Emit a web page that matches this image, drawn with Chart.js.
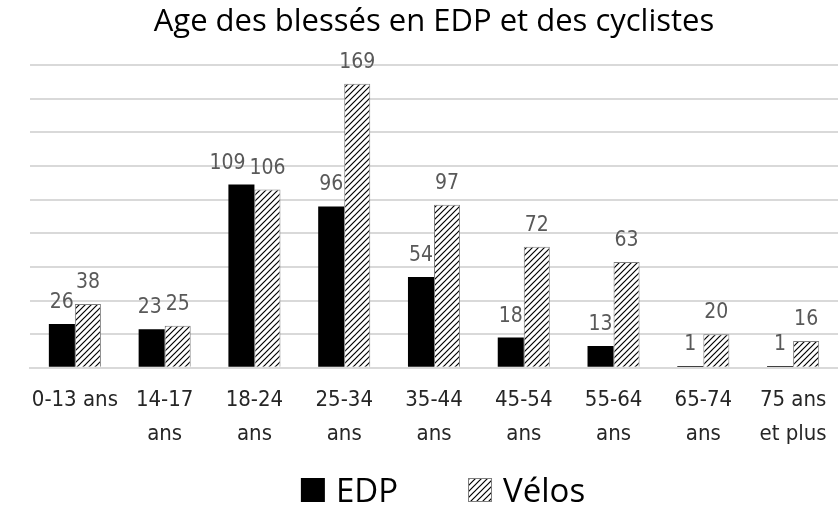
<!DOCTYPE html>
<html>
<head>
<meta charset="utf-8">
<script src="https://cdn.jsdelivr.net/npm/chart.js@4"></script>
<style>
  html, body { margin: 0; padding: 0; background: #fff; }
  #wrap { width: 838px; height: 507px; }
</style>
</head>
<body>
<div id="wrap"><canvas id="myChart" width="838" height="507"></canvas></div>
<script>
// categories and values
var labels = [["0-13 ans"], ["14-17", "ans"], ["18-24", "ans"], ["25-34", "ans"], ["35-44", "ans"],
              ["45-54", "ans"], ["55-64", "ans"], ["65-74", "ans"], ["75 ans", "et plus"]];
var edp = [26, 23, 109, 96, 54, 18, 13, 1, 1];
var velos = [38, 25, 106, 169, 97, 72, 63, 20, 16];

function hatch() {
    var c = document.createElement('canvas');
    c.width = 6; c.height = 6;
    var g = c.getContext('2d');
    g.fillStyle = '#fff';
    g.fillRect(0, 0, 6, 6);
    g.strokeStyle = '#000';
    g.lineWidth = 1.2;
    g.beginPath();
    g.moveTo(0, 6); g.lineTo(6, 0);
    g.moveTo(-3, 3); g.lineTo(3, -3);
    g.moveTo(3, 9); g.lineTo(9, 3);
    g.stroke();
    return g.createPattern(c, 'repeat');
}

// write the value above each bar; the left label is pushed left if the two touch
var valueLabels = {
    id: 'valueLabels',
    afterDatasetsDraw: function (chart) {
        var ctx = chart.ctx;
        ctx.save();
        ctx.font = '21px "DejaVu Sans Condensed", "DejaVu Sans"';
        ctx.fillStyle = '#595959';
        ctx.textAlign = 'center';
        ctx.textBaseline = 'alphabetic';
        var a = chart.getDatasetMeta(0).data, b = chart.getDatasetMeta(1).data;
        var da = chart.data.datasets[0].data, db = chart.data.datasets[1].data;
        a.forEach(function (barA, j) {
            var barB = b[j];
            var wa = ctx.measureText(da[j]).width, wb = ctx.measureText(db[j]).width;
            var xa = barA.x, ya = barA.y - 16, yb = barB.y - 16;
            var overlap = (xa + wa / 2 + 4) - (barB.x - wb / 2);
            if (overlap > 0 && Math.abs(ya - yb) < 20) xa -= overlap;
            ctx.fillText(da[j], xa, ya);
            ctx.fillText(db[j], barB.x, yb);
        });
        ctx.restore();
    }
};

// legend drawn by hand so the gap between the two entries can be wide
var bottomLegend = {
    id: 'bottomLegend',
    afterDraw: function (chart) {
        var ctx = chart.ctx;
        var box = 24, gap = 11, between = 70, base = 502;
        ctx.save();
        ctx.font = '33px "Open Sans", "Noto Sans"';
        ctx.textBaseline = 'alphabetic';
        var items = chart.data.datasets.map(function (ds) {
            return { ds: ds, w: box + gap + ctx.measureText(ds.label).width };
        });
        var total = items.reduce(function (s, it) { return s + it.w; }, 0) + between * (items.length - 1);
        var x = 443 - total / 2;
        items.forEach(function (it) {
            ctx.fillStyle = it.ds.backgroundColor;
            ctx.fillRect(x, base - box, box, box);
            if (it.ds.borderWidth) {
                ctx.strokeStyle = it.ds.borderColor;
                ctx.lineWidth = 1;
                ctx.strokeRect(x + 0.5, base - box + 0.5, box - 1, box - 1);
            }
            ctx.fillStyle = '#000';
            ctx.fillText(it.ds.label, x + box + gap, base);
            x += it.w + between;
        });
        ctx.restore();
    }
};

var pattern = hatch();
var ctx = document.getElementById('myChart').getContext('2d');
var chart = new Chart(ctx, {
    type: 'bar',
    data: {
        labels: labels,
        datasets: [{
            label: 'EDP',
            data: edp,
            backgroundColor: '#000',
            borderColor: '#000',
            borderWidth: 0
        }, {
            label: 'Vélos',
            data: velos,
            backgroundColor: pattern,
            borderColor: '#7f7f7f',
            borderWidth: 1
        }]
    },
    options: {
        responsive: false,
        animation: false,
        categoryPercentage: 0.58,
        barPercentage: 1.0,
        layout: { padding: { left: 30, right: 0, bottom: 49 } },
        plugins: {
            title: {
                display: true,
                text: 'Age des blessés en EDP et des cyclistes',
                color: '#000',
                font: { family: '"Open Sans", "Noto Sans"', size: 31, weight: 'normal' },
                padding: { top: 4, bottom: 24 }
            },
            legend: { display: false },
            tooltip: { enabled: false }
        },
        scales: {
            x: {
                grid: { display: false },
                border: { display: true, color: '#d9d9d9', width: 2 },
                ticks: {
                    color: '#262626',
                    font: { family: '"DejaVu Sans Condensed", "DejaVu Sans"', size: 22, lineHeight: 1.55 },
                    maxRotation: 0,
                    autoSkip: false,
                    padding: 7
                }
            },
            y: {
                min: 0,
                max: 180,
                ticks: { display: false, stepSize: 20 },
                grid: { color: '#d9d9d9', lineWidth: 2, drawTicks: false },
                border: { display: false }
            }
        }
    },
    plugins: [valueLabels, bottomLegend]
});
</script>
</body>
</html>
